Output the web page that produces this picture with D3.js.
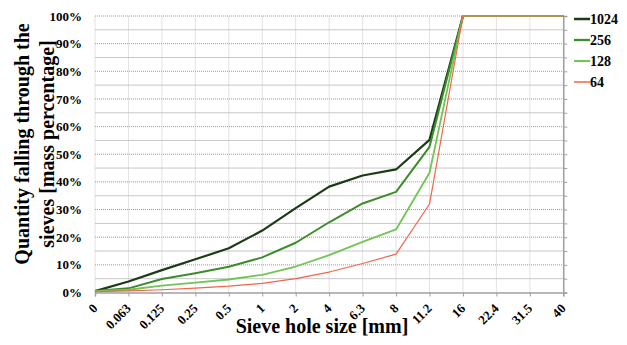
<!DOCTYPE html>
<html><head><meta charset="utf-8">
<script src="https://cdn.jsdelivr.net/npm/d3@7"></script>
<style>body{margin:0;background:#fff}svg{display:block}</style>
</head><body>
<script>
const categories = ["0","0.063","0.125","0.25","0.5","1","2","4","6.3","8","11.2","16","22.4","31.5","40"];
const s1024 = [0.5, 4.0, 8.1, 12.0, 16.0, 22.4, 30.5, 38.3, 42.3, 44.5, 55.2, 100, 100, 100, 100];
const s256  = [0.5, 1.5, 4.9, 7.0, 9.3, 12.7, 18.0, 25.4, 32.2, 36.4, 52.7, 100, 100, 100, 100];
const s128  = [0.5, 1.0, 2.5, 3.6, 4.7, 6.4, 9.4, 13.5, 18.3, 22.8, 43.3, 100, 100, 100, 100];
const s64   = [0.3, 0.6, 1.0, 1.6, 2.3, 3.3, 5.0, 7.4, 10.5, 13.9, 32.0, 100, 100, 100, 100];
const seriesNames = ["1024","256","128","64"];
const seriesColors = ["#1c3a14","#3c8c2c","#72c455","#f2654a"];
const seriesWidths = [2.2, 2, 1.8, 1.2];
const yTicks = [0,10,20,30,40,50,60,70,80,90,100];

const W=627,H=345;
const m={l:95,r:63.7,t:16,b:52.5};
const svg=d3.select("body").append("svg").attr("width",W).attr("height",H);
const x=d3.scalePoint().domain(categories).range([m.l,W-m.r]);
const y=d3.scaleLinear().domain([0,100]).range([H-m.b,m.t]);
const font="'Liberation Serif','Times New Roman',serif";

const g=svg.append("g");
d3.range(5,100,10).forEach(v=>{
  g.append("line").attr("x1",m.l).attr("x2",W-m.r).attr("y1",y(v)).attr("y2",y(v))
   .attr("stroke","#c8c8c8").attr("stroke-width",1);
});
yTicks.slice(1).forEach(v=>{
  g.append("line").attr("x1",m.l).attr("x2",W-m.r).attr("y1",y(v)).attr("y2",y(v))
   .attr("stroke","#9a9a9a").attr("stroke-width",1).attr("stroke-dasharray","1,1");
});
categories.forEach(c=>{
  g.append("line").attr("x1",x(c)).attr("x2",x(c)).attr("y1",y(0)).attr("y2",y(100))
   .attr("stroke","#c4c4c4").attr("stroke-width",1).attr("stroke-dasharray","1,1");
});

const ra=d3.axisRight(y).tickValues(d3.range(0,101,5)).tickSize(4).tickFormat("");
svg.append("g").attr("transform",`translate(${W-m.r},0)`).call(ra)
  .call(a=>{a.select(".domain").attr("stroke","#a0a0a0").attr("stroke-width",1.5);a.selectAll("line").attr("stroke","#a0a0a0");});

const ba=d3.axisBottom(x).tickSize(4).tickFormat("");
svg.append("g").attr("transform",`translate(0,${y(0)})`).call(ba)
  .call(a=>{a.select(".domain").attr("stroke","#a0a0a0").attr("stroke-width",1.5);a.selectAll("line").attr("stroke","#a0a0a0");});

yTicks.forEach(v=>{
  svg.append("text").attr("x",82).attr("y",y(v)).attr("dy","0.35em").attr("text-anchor","end")
   .attr("font-family",font).attr("font-weight","bold").attr("font-size",13).text(v+"%");
});
categories.forEach(c=>{
  svg.append("text").attr("transform",`translate(${x(c)},${y(0)+13.5}) rotate(-45)`)
   .attr("text-anchor","end").attr("dy","0.35em")
   .attr("font-family",font).attr("font-weight","bold").attr("font-size",13).text(c);
});

const allSeries=[s1024,s256,s128,s64];
const line=d3.line().x((d,i)=>x(categories[i])).y(d=>y(d));
allSeries.forEach((s,k)=>{
  svg.append("path").datum(s).attr("d",line).attr("fill","none")
   .attr("stroke",seriesColors[k]).attr("stroke-width",seriesWidths[k]).attr("stroke-linejoin","round");
});

seriesNames.forEach((n,k)=>{
  const ly=19+k*21;
  svg.append("line").attr("x1",574).attr("x2",590).attr("y1",ly).attr("y2",ly)
   .attr("stroke",seriesColors[k]).attr("stroke-width",seriesWidths[k]+0.3);
  svg.append("text").attr("x",590).attr("y",ly).attr("dy","0.35em")
   .attr("font-family",font).attr("font-weight","bold").attr("font-size",14).text(n);
});

svg.append("text").attr("x",322).attr("y",333).attr("text-anchor","middle")
  .attr("font-family",font).attr("font-weight","bold").attr("font-size",20).text("Sieve hole size [mm]");
const yt=svg.append("text").attr("transform","translate(0,144) rotate(-90)").attr("text-anchor","middle")
  .attr("font-family",font).attr("font-weight","bold").attr("font-size",20);
yt.append("tspan").attr("x",0).attr("y",29).text("Quantity falling through the");
yt.append("tspan").attr("x",0).attr("y",53.5).text("sieves [mass percentage]");
</script>
</body></html>
